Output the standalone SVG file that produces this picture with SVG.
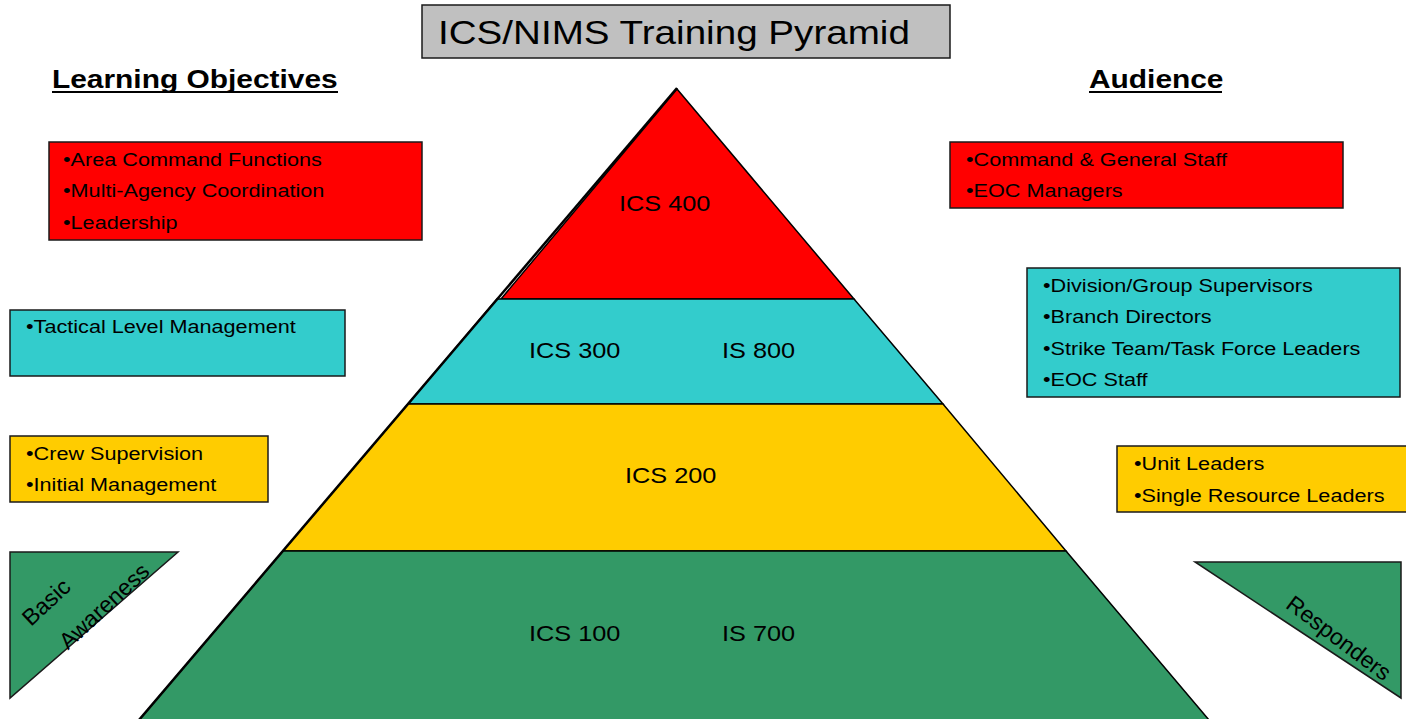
<svg xmlns="http://www.w3.org/2000/svg" width="1406" height="719" viewBox="0 0 1406 719">
<style>
  .t{font-family:"Liberation Sans",Arial,sans-serif;fill:#000}
  .b{font-size:18.5px}
  .p{font-size:22px}
  .h{font-size:26px;font-weight:bold}
  .r{font-size:23px}
  .box{stroke:#1a1a1a;stroke-width:1.5}
  .lay{stroke:#000;stroke-width:1.5;stroke-linejoin:miter}
  .red{fill:#FF0000}.teal{fill:#33CCCC}.yel{fill:#FFCC00}.grn{fill:#339966}.gry{fill:#C0C0C0}
</style>
<rect width="1406" height="719" fill="#fff"/>

<g id="title">
  <rect class="box gry" x="422" y="5" width="528" height="53"/>
  <text class="t" font-size="33" transform="translate(438,44) scale(1.17,1)">ICS/NIMS Training Pyramid</text>
</g>

<g id="heading-objectives">
  <text class="t h" transform="translate(52,88) scale(1.15,1)">Learning Objectives</text>
  <line x1="52" y1="92" x2="338" y2="92" stroke="#000" stroke-width="2"/>
</g>
<g id="heading-audience">
  <text class="t h" transform="translate(1089,88) scale(1.15,1)">Audience</text>
  <line x1="1089" y1="92" x2="1222" y2="92" stroke="#000" stroke-width="2"/>
</g>

<g id="pyramid">
  <g id="layer-400">
    <polygon class="lay red" points="677,89 854,299 501,299"/>
    <text class="t p" transform="translate(619,211) scale(1.15,1)">ICS 400</text>
  </g>
  <g id="layer-300">
    <polygon class="lay teal" points="497,299 854,299 943,404 408,404"/>
    <text class="t p" transform="translate(529,358) scale(1.15,1)">ICS 300</text>
    <text class="t p" transform="translate(722,358) scale(1.15,1)">IS 800</text>
  </g>
  <g id="layer-200">
    <polygon class="lay yel" points="408,404 943,404 1066,551 283,551"/>
    <text class="t p" transform="translate(625,483) scale(1.15,1)">ICS 200</text>
  </g>
  <g id="layer-100">
    <polygon class="lay grn" points="283,551 1066,551 1209,720 139,720"/>
    <text class="t p" transform="translate(529,641) scale(1.15,1)">ICS 100</text>
    <text class="t p" transform="translate(722,641) scale(1.15,1)">IS 700</text>
  </g>
</g>
<g id="connectors">
  <line x1="677" y1="88" x2="139" y2="720" stroke="#000" stroke-width="2.5"/>
</g>

<g id="obj-400">
  <rect class="box red" x="49" y="142" width="373" height="98"/>
  <text class="t b" transform="translate(63,166) scale(1.17,1)">•Area Command Functions</text>
  <text class="t b" transform="translate(63,197) scale(1.17,1)">•Multi-Agency Coordination</text>
  <text class="t b" transform="translate(63,229) scale(1.17,1)">•Leadership</text>
</g>
<g id="obj-300">
  <rect class="box teal" x="10" y="310" width="335" height="66"/>
  <text class="t b" transform="translate(26,333) scale(1.17,1)">•Tactical Level Management</text>
</g>
<g id="obj-200">
  <rect class="box yel" x="10" y="436" width="258" height="66"/>
  <text class="t b" transform="translate(26,460) scale(1.17,1)">•Crew Supervision</text>
  <text class="t b" transform="translate(26,491) scale(1.17,1)">•Initial Management</text>
</g>
<g id="obj-100">
  <polygon class="box grn" points="10,552 178,552 10,698"/>
  <text class="t r" text-anchor="middle" dy="0.35em" transform="translate(46,602) rotate(-43)">Basic</text>
  <text class="t r" text-anchor="middle" dy="0.35em" transform="translate(104,606) rotate(-43)">Awareness</text>
</g>

<g id="aud-400">
  <rect class="box red" x="950" y="142" width="393" height="66"/>
  <text class="t b" transform="translate(966,166) scale(1.17,1)">•Command &amp; General Staff</text>
  <text class="t b" transform="translate(966,197) scale(1.17,1)">•EOC Managers</text>
</g>
<g id="aud-300">
  <rect class="box teal" x="1027" y="268" width="373" height="129"/>
  <text class="t b" transform="translate(1043,292) scale(1.17,1)">•Division/Group Supervisors</text>
  <text class="t b" transform="translate(1043,323) scale(1.17,1)">•Branch Directors</text>
  <text class="t b" transform="translate(1043,355) scale(1.17,1)">•Strike Team/Task Force Leaders</text>
  <text class="t b" transform="translate(1043,386) scale(1.17,1)">•EOC Staff</text>
</g>
<g id="aud-200">
  <rect class="box yel" x="1117" y="446" width="292" height="66"/>
  <text class="t b" transform="translate(1134,470) scale(1.17,1)">•Unit Leaders</text>
  <text class="t b" transform="translate(1134,502) scale(1.17,1)">•Single Resource Leaders</text>
</g>
<g id="aud-100">
  <polygon class="box grn" points="1195,562 1401,562 1401,698"/>
  <text class="t r" text-anchor="middle" dy="0.35em" transform="translate(1339,638) rotate(37)">Responders</text>
</g>
</svg>
